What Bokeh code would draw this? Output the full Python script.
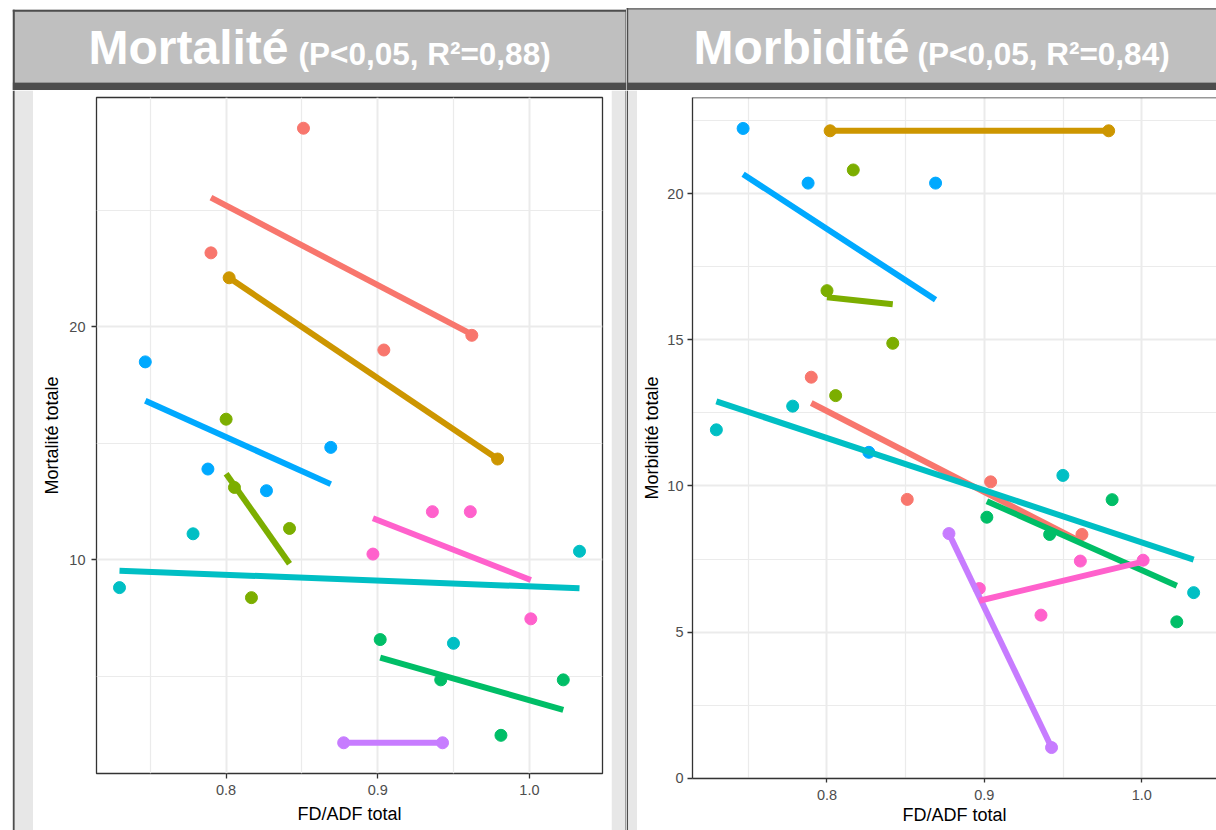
import numpy as np
from bokeh.plotting import figure
from bokeh.layouts import row, column
from bokeh.models import Range1d, FixedTicker, NumeralTickFormatter, Span
from bokeh.core.properties import value
from bokeh.embed import file_html
from bokeh.resources import INLINE

# ---------------- data ----------------
groupes = ["Groupe 1", "Groupe 2", "Groupe 3", "Groupe 4",
           "Groupe 5", "Groupe 6", "Groupe 7", "Groupe 8"]
couleurs = ["#F8766D", "#CD9600", "#7CAE00", "#00BE67",
            "#00BFC4", "#00A9FF", "#C77CFF", "#FF61CC"]

fdadf_g1 = [0.790, 0.851, 0.904, 0.962]
fdadf_g2 = [0.802, 0.979]
fdadf_g3 = [0.800, 0.8055, 0.8167, 0.8418]
fdadf_g4 = [0.9016, 0.9415, 0.9812, 1.0223]
fdadf_g5 = [0.7297, 0.7782, 0.9499, 1.0330]
fdadf_g6 = [0.7467, 0.7880, 0.8266, 0.8690]
fdadf_g7 = [0.8775, 0.9427]
fdadf_g8 = [0.8968, 0.9360, 0.9610, 1.0009]

mortalite_g1 = [23.17, 28.52, 19.00, 19.63]
mortalite_g2 = [22.10, 14.32]
mortalite_g3 = [16.03, 13.10, 8.37, 11.34]
mortalite_g4 = [6.57, 4.84, 2.46, 4.84]
mortalite_g5 = [8.80, 11.11, 6.41, 10.36]
mortalite_g6 = [18.49, 13.89, 12.96, 14.82]
mortalite_g7 = [2.14, 2.14]
mortalite_g8 = [10.24, 12.06, 12.06, 7.46]

morbidite_g1 = [13.72, 9.54, 10.14, 8.34]
morbidite_g2 = [22.15, 22.15]
morbidite_g3 = [16.68, 13.09, 20.81, 14.88]
morbidite_g4 = [8.93, 8.34, 9.53, 5.35]
morbidite_g5 = [11.92, 12.73, 10.36, 6.35]
morbidite_g6 = [22.23, 20.36, 11.15, 20.36]
morbidite_g7 = [8.37, 1.05]
morbidite_g8 = [6.49, 5.58, 7.43, 7.46]

x_breaks = [0.8, 0.9, 1.0]
x_minor = [0.75, 0.85, 0.95, 1.05]
mort_breaks = [10, 20]
mort_minor = [5, 15, 25]
morb_breaks = [0, 5, 10, 15, 20]
morb_minor = [2.5, 7.5, 12.5, 17.5, 22.5]

titre_mort = "Mortalité"
stats_mort = "(P<0,05, R²=0,88)"
titre_morb = "Morbidité"
stats_morb = "(P<0,05, R²=0,84)"
x_label = "FD/ADF total"
mort_label = "Mortalité totale"
morb_label = "Morbidité totale"

fdadf = [fdadf_g1, fdadf_g2, fdadf_g3, fdadf_g4, fdadf_g5, fdadf_g6, fdadf_g7, fdadf_g8]
mortalite = [mortalite_g1, mortalite_g2, mortalite_g3, mortalite_g4,
             mortalite_g5, mortalite_g6, mortalite_g7, mortalite_g8]
morbidite = [morbidite_g1, morbidite_g2, morbidite_g3, morbidite_g4,
             morbidite_g5, morbidite_g6, morbidite_g7, morbidite_g8]

# ---------------- style ----------------
FONT = "Liberation Sans"
DARK = "#4D4D4D"
HDR = "#BFBFBF"
PANEL = "#E7E7E7"
GRID = "#EBEBEB"
BORDER = "#333333"


def expand(lists, frac=0.05):
    vals = [v for l in lists for v in l]
    lo, hi = min(vals), max(vals)
    d = (hi - lo) * frac
    return lo - d, hi + d


def deco(x0, x1, y0, y1):
    p = figure(width=int(round(x1 - x0)), height=int(round(y1 - y0)),
               x_range=Range1d(x0, x1), y_range=Range1d(y1, y0),
               toolbar_location=None, output_backend="svg",
               x_axis_type=None, y_axis_type=None, min_border=0)
    p.outline_line_color = None
    p.background_fill_color = "white"
    p.border_fill_color = "white"
    return p


def rects(p, specs):
    p.quad(left=[s[0] for s in specs], right=[s[1] for s in specs],
           top=[s[2] for s in specs], bottom=[s[3] for s in specs],
           fill_color=[s[4] for s in specs], line_color=None)


def header_text(p, x_big, x_small, big, small):
    p.text(x=[x_big], y=[47], text=[big], text_font=value(FONT),
           text_font_style="bold", text_font_size="48px", text_color="white",
           text_align="left", text_baseline="alphabetic")
    p.text(x=[x_small], y=[53], text=[small], text_font=value(FONT),
           text_font_style="bold", text_font_size="31.5px", text_color="white",
           text_align="left", text_baseline="alphabetic")


def make_panel(width, height, mb, xr, yr, ybreaks, yminor, yfmt, ylab, yvals,
               full_outline, lab_standoff_x, lab_standoff_y, axlab_x, axlab_y, tick_x):
    p = figure(width=width, height=height, x_range=Range1d(*xr), y_range=Range1d(*yr),
               toolbar_location=None, output_backend="svg",
               min_border_left=mb[0], min_border_right=mb[1],
               min_border_top=mb[2], min_border_bottom=mb[3])
    p.background_fill_color = "white"
    p.border_fill_color = "white"

    p.xaxis.ticker = FixedTicker(ticks=x_breaks, minor_ticks=x_minor)
    p.yaxis.ticker = FixedTicker(ticks=ybreaks, minor_ticks=yminor)
    p.xaxis.formatter = NumeralTickFormatter(format="0.0")
    p.yaxis.formatter = NumeralTickFormatter(format=yfmt)

    for ax in (p.xaxis, p.yaxis):
        ax.major_tick_line_color = BORDER
        ax.major_tick_line_width = 1.3
        ax.major_tick_in = 0
        ax.minor_tick_line_color = None
        ax.major_label_text_font = FONT
        ax.major_label_text_font_size = "14.5px"
        ax.major_label_text_color = DARK
        ax.axis_label_text_font = FONT
        ax.axis_label_text_font_size = "18px"
        ax.axis_label_text_font_style = "normal"
        ax.axis_label_text_color = "black"
    p.xaxis.major_tick_out = tick_x
    p.yaxis.major_tick_out = 5
    p.xaxis.major_label_standoff = lab_standoff_x
    p.yaxis.major_label_standoff = lab_standoff_y
    p.xaxis.axis_label_standoff = axlab_x
    p.yaxis.axis_label_standoff = axlab_y
    p.xaxis.axis_label = x_label
    p.yaxis.axis_label = ylab

    for g in (p.xgrid, p.ygrid):
        g.grid_line_color = GRID
        g.grid_line_width = 2
        g.minor_grid_line_color = GRID
        g.minor_grid_line_width = 1.2

    if full_outline:
        p.outline_line_color = BORDER
        p.outline_line_width = 1.3
        p.xaxis.axis_line_color = None
        p.yaxis.axis_line_color = None
    else:
        p.outline_line_color = None
        p.xaxis.axis_line_color = BORDER
        p.yaxis.axis_line_color = BORDER
        p.xaxis.axis_line_width = 1.3
        p.yaxis.axis_line_width = 1.3
        p.add_layout(Span(location=yr[1], dimension="width",
                          line_color=BORDER, line_width=1.3))

    # points
    for i, nom in enumerate(groupes):
        p.scatter(fdadf[i], yvals[i], size=12, color=couleurs[i])
    # linear fits per group
    for i, nom in enumerate(groupes):
        xs = np.array(fdadf[i], dtype=float)
        ys = np.array(yvals[i], dtype=float)
        b, a = np.polyfit(xs, ys, 1)
        xe = np.array([xs.min(), xs.max()])
        p.line(xe, a + b * xe, line_color=couleurs[i], line_width=6)
    return p


# ---------------- headers ----------------
hdrL = deco(0, 626, 0, 90)
rects(hdrL, [
    (12.3, 626, 9.3, 82, HDR),
    (12.3, 626, 9.3, 11.3, DARK),
    (12.3, 14.3, 9.3, 90, DARK),
    (12.3, 626, 82, 90, DARK),
    (625, 626, 9.3, 90, DARK),
])
header_text(hdrL, 88, 298, titre_mort, stats_mort)

hdrR = deco(626, 1216, 0, 90)
rects(hdrR, [
    (626, 1216, 7.5, 82, HDR),
    (626, 1216, 7.5, 9.3, "#7A7A7A"),
    (626, 1216, 82, 90, DARK),
    (626, 627.7, 7.5, 90, DARK),
])
header_text(hdrR, 693, 917, titre_morb, stats_morb)

# ---------------- side strips ----------------
decoL = deco(0, 33, 90, 830)
rects(decoL, [(12.3, 14.3, 90, 830, DARK), (14.3, 33, 90, 830, PANEL)])
stripL = deco(33, 611, 90, 94)
rects(stripL, [(33, 611, 90, 94, PANEL)])
decoLR = deco(611, 626, 90, 830)
rects(decoLR, [(611, 625, 90, 830, PANEL), (625, 626, 90, 830, DARK)])
decoRL = deco(626, 637, 90, 830)
rects(decoRL, [(626, 627.7, 90, 830, DARK), (627.7, 637, 90, 830, PANEL)])
stripR = deco(637, 1216, 90, 94)
rects(stripR, [(637, 1216, 90, 94, PANEL)])

# ---------------- plots ----------------
xr_full = expand(fdadf)
plotL = make_panel(578, 736, (63, 9, 3, 57), xr_full, expand(mortalite),
                   mort_breaks, mort_minor, "0", mort_label, mortalite,
                   True, 6, 6, 6, 4, 5)

# right panel is cut at the page edge: only part of its full width is visible
vis_frac = 524.0 / 525.0
xr_right = (xr_full[0], xr_full[0] + (xr_full[1] - xr_full[0]) * vis_frac)
plotR = make_panel(579, 736, (55, 0, 3, 52), xr_right, expand(morbidite),
                   morb_breaks, morb_minor, "0", morb_label, morbidite,
                   False, 7, 4, 2, 2, 4)

layout = row(
    column(hdrL, row(decoL, column(stripL, plotL), decoLR)),
    column(hdrR, row(decoRL, column(stripR, plotR))),
)

open("out.html", "w").write(file_html(layout, INLINE))
